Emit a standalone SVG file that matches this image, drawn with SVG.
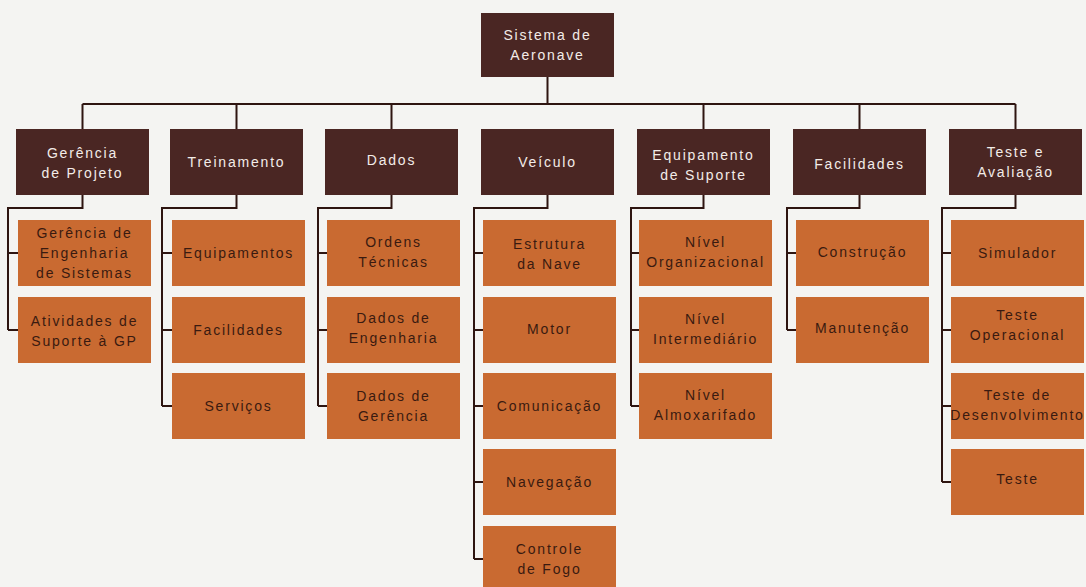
<svg xmlns="http://www.w3.org/2000/svg" width="1086" height="587" viewBox="0 0 1086 587">
<style>
.bg{fill:#f4f4f2}
.top rect{fill:#4a2623}
.top text{fill:#f3ece8;font-family:"Liberation Sans",Arial,sans-serif;font-size:14px;letter-spacing:1.8px;text-anchor:middle}
.sub rect{fill:#c96a31}
.sub text{fill:#3a1a10;font-family:"Liberation Sans",Arial,sans-serif;font-size:14px;letter-spacing:1.8px;text-anchor:middle}
.conn path{fill:none;stroke:#2e1511;stroke-width:2}
</style>
<rect class="bg" x="0" y="0" width="1086" height="587"/>
<g class="conn" id="connectors">
<path d="M547.5 77V104M82.5 104H1015.5M82.5 104V129M236.5 104V129M391.5 104V129M703.5 104V129M859.5 104V129M1015.5 104V129"/>
<path d="M82.5 195V208H8V330M8 253H18M8 330H18"/>
<path d="M236.5 195V208H162V406M162 253H172M162 330H172M162 406H172"/>
<path d="M391.5 195V208H318V406M318 253H327M318 330H327M318 406H327"/>
<path d="M547.5 195V208H474V559M474 253H483M474 330H483M474 406H483M474 482H483M474 559H483"/>
<path d="M703.5 195V208H631V406M631 253H639M631 330H639M631 406H639"/>
<path d="M859.5 195V208H787V330M787 253H796M787 330H796"/>
<path d="M1015.5 195V208H942V482M942 253H951M942 330H951M942 406H951M942 482H951"/>
</g>
<g class="top" id="n-root"><rect x="481" y="13" width="133" height="64"/><text x="547.5" y="40">Sistema de</text><text x="547.5" y="60">Aeronave</text></g>
<g class="top" id="n-gerencia"><rect x="16" y="129" width="133" height="66"/><text x="82.5" y="158">Gerência</text><text x="82.5" y="178">de Projeto</text></g>
<g class="top" id="n-treinamento"><rect x="170" y="129" width="133" height="66"/><text x="236.5" y="167">Treinamento</text></g>
<g class="top" id="n-dados"><rect x="325" y="129" width="133" height="66"/><text x="391.5" y="165">Dados</text></g>
<g class="top" id="n-veiculo"><rect x="481" y="129" width="133" height="66"/><text x="547.5" y="167">Veículo</text></g>
<g class="top" id="n-equipamento"><rect x="637" y="129" width="133" height="66"/><text x="703.5" y="160">Equipamento</text><text x="703.5" y="180">de Suporte</text></g>
<g class="top" id="n-facilidades"><rect x="793" y="129" width="133" height="66"/><text x="859.5" y="169">Facilidades</text></g>
<g class="top" id="n-teste"><rect x="949" y="129" width="133" height="66"/><text x="1015.5" y="157">Teste e</text><text x="1015.5" y="177">Avaliação</text></g>

<g class="sub" id="n-gerencia-eng"><rect x="18" y="220" width="133" height="66"/><text x="84.5" y="238">Gerência de</text><text x="84.5" y="258">Engenharia</text><text x="84.5" y="278">de Sistemas</text></g>
<g class="sub" id="n-atividades"><rect x="18" y="297" width="133" height="66"/><text x="84.5" y="326">Atividades de</text><text x="84.5" y="346">Suporte à GP</text></g>

<g class="sub" id="n-equipamentos"><rect x="172" y="220" width="133" height="66"/><text x="238.5" y="258">Equipamentos</text></g>
<g class="sub" id="n-facilidades-t"><rect x="172" y="297" width="133" height="66"/><text x="238.5" y="335">Facilidades</text></g>
<g class="sub" id="n-servicos"><rect x="172" y="373" width="133" height="66"/><text x="238.5" y="411">Serviços</text></g>

<g class="sub" id="n-ordens"><rect x="327" y="220" width="133" height="66"/><text x="393.5" y="247">Ordens</text><text x="393.5" y="267">Técnicas</text></g>
<g class="sub" id="n-dados-eng"><rect x="327" y="297" width="133" height="66"/><text x="393.5" y="323">Dados de</text><text x="393.5" y="343">Engenharia</text></g>
<g class="sub" id="n-dados-ger"><rect x="327" y="373" width="133" height="66"/><text x="393.5" y="401">Dados de</text><text x="393.5" y="421">Gerência</text></g>

<g class="sub" id="n-estrutura"><rect x="483" y="220" width="133" height="66"/><text x="549.5" y="249">Estrutura</text><text x="549.5" y="269">da Nave</text></g>
<g class="sub" id="n-motor"><rect x="483" y="297" width="133" height="66"/><text x="549.5" y="334">Motor</text></g>
<g class="sub" id="n-comunicacao"><rect x="483" y="373" width="133" height="66"/><text x="549.5" y="411">Comunicação</text></g>
<g class="sub" id="n-navegacao"><rect x="483" y="449" width="133" height="66"/><text x="549.5" y="487">Navegação</text></g>
<g class="sub" id="n-controle"><rect x="483" y="526" width="133" height="66"/><text x="549.5" y="554">Controle</text><text x="549.5" y="574">de Fogo</text></g>

<g class="sub" id="n-nivel-org"><rect x="639" y="220" width="133" height="66"/><text x="705.5" y="247">Nível</text><text x="705.5" y="267">Organizacional</text></g>
<g class="sub" id="n-nivel-int"><rect x="639" y="297" width="133" height="66"/><text x="705.5" y="324">Nível</text><text x="705.5" y="344">Intermediário</text></g>
<g class="sub" id="n-nivel-alm"><rect x="639" y="373" width="133" height="66"/><text x="705.5" y="400">Nível</text><text x="705.5" y="420">Almoxarifado</text></g>

<g class="sub" id="n-construcao"><rect x="796" y="220" width="133" height="66"/><text x="862.5" y="257">Construção</text></g>
<g class="sub" id="n-manutencao"><rect x="796" y="297" width="133" height="66"/><text x="862.5" y="333">Manutenção</text></g>

<g class="sub" id="n-simulador"><rect x="951" y="220" width="133" height="66"/><text x="1017.5" y="258">Simulador</text></g>
<g class="sub" id="n-teste-op"><rect x="951" y="297" width="133" height="66"/><text x="1017.5" y="320">Teste</text><text x="1017.5" y="340">Operacional</text></g>
<g class="sub" id="n-teste-dev"><rect x="951" y="373" width="133" height="66"/><text x="1017.5" y="400">Teste de</text><text x="1017.5" y="420">Desenvolvimento</text></g>
<g class="sub" id="n-teste-final"><rect x="951" y="449" width="133" height="66"/><text x="1017.5" y="484">Teste</text></g>
</svg>
